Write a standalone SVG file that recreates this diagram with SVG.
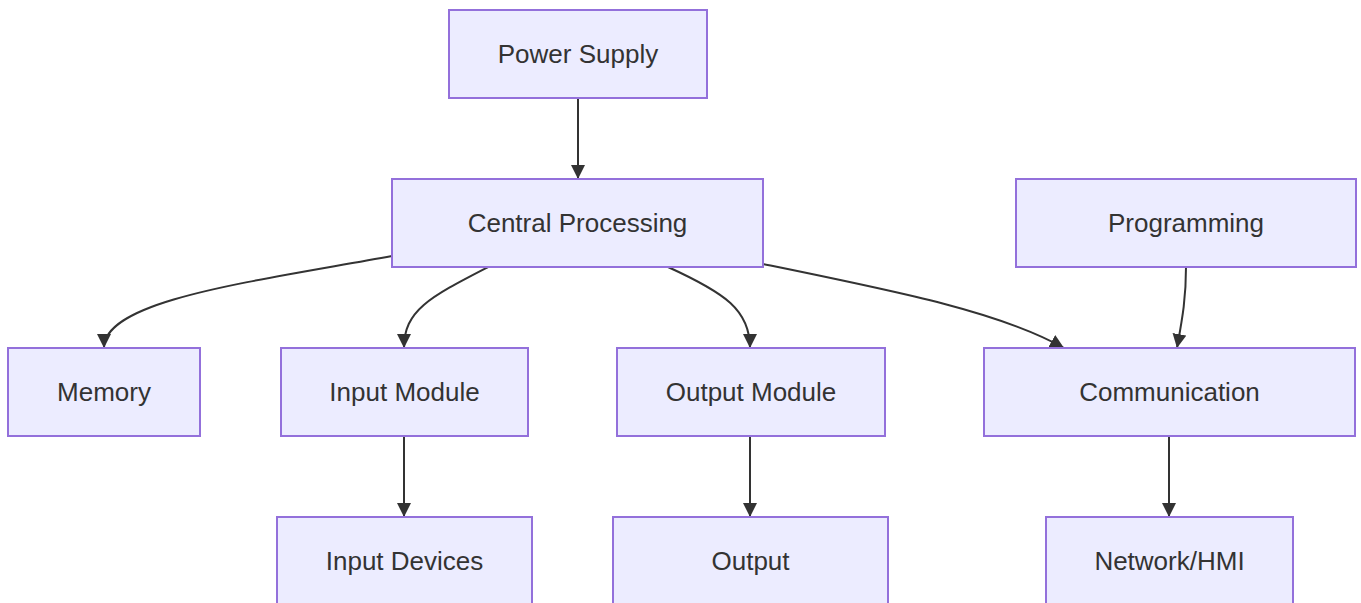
<svg xmlns="http://www.w3.org/2000/svg" width="1361" height="603" viewBox="0 0 1361 603">
<style>
.node rect{fill:#ECECFF;stroke:#9370DB;stroke-width:2}
.node text{font-family:"Liberation Sans",Arial,sans-serif;font-size:26px;fill:#333;text-anchor:middle;dominant-baseline:central}
.edges path{fill:none;stroke:#333;stroke-width:2;marker-end:url(#arrow)}
</style>
<defs>
<marker id="arrow" viewBox="0 0 10 10" refX="10" refY="5" markerWidth="7" markerHeight="7" markerUnits="strokeWidth" orient="auto">
<path d="M0,0 L10,5 L0,10 z" fill="#333"/>
</marker>
</defs>
<rect width="1361" height="603" fill="#fff"/>
<g class="edges">
<path d="M578,98 L578,179"/>
<path d="M392,256 C250,282 104,300 104,348"/>
<path d="M488,267 C430,297 404,310 404,348"/>
<path d="M668,267 C725,293 750,310 750,348"/>
<path d="M763,264 C900,292 1000,312 1064,348"/>
<path d="M1186,267 C1186,300 1182,320 1177,348"/>
<path d="M404,436 L404,517"/>
<path d="M750,436 L750,517"/>
<path d="M1169,436 L1169,517"/>
</g>
<g id="power" class="node"><rect x="449" y="10" width="258" height="88"/><text x="578" y="54">Power Supply</text></g>
<g id="cpu" class="node"><rect x="392" y="179" width="371" height="88"/><text x="577.5" y="223">Central Processing</text></g>
<g id="prog" class="node"><rect x="1016" y="179" width="340" height="88"/><text x="1186" y="223">Programming</text></g>
<g id="mem" class="node"><rect x="8" y="348" width="192" height="88"/><text x="104" y="392">Memory</text></g>
<g id="inmod" class="node"><rect x="281" y="348" width="247" height="88"/><text x="404.5" y="392">Input Module</text></g>
<g id="outmod" class="node"><rect x="617" y="348" width="268" height="88"/><text x="751" y="392">Output Module</text></g>
<g id="comm" class="node"><rect x="984" y="348" width="371" height="88"/><text x="1169.5" y="392">Communication</text></g>
<g id="indev" class="node"><rect x="277" y="517" width="255" height="88"/><text x="404.5" y="561">Input Devices</text></g>
<g id="out" class="node"><rect x="613" y="517" width="275" height="88"/><text x="750.5" y="561">Output</text></g>
<g id="net" class="node"><rect x="1046" y="517" width="247" height="88"/><text x="1169.5" y="561">Network/HMI</text></g>
</svg>
